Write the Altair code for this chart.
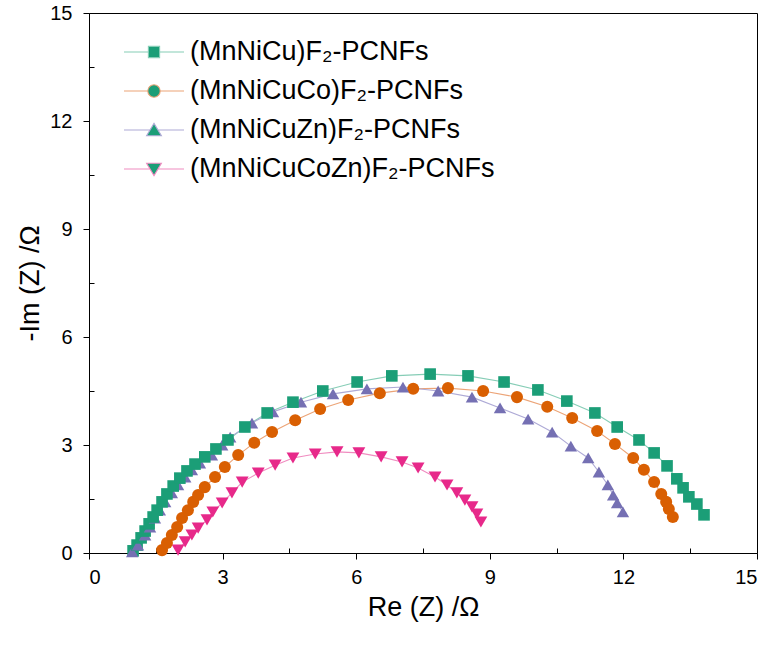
import altair as alt
import pandas as pd

series_names = ["(MnNiCu)F₂-PCNFs", "(MnNiCuCo)F₂-PCNFs", "(MnNiCuZn)F₂-PCNFs", "(MnNiCuCoZn)F₂-PCNFs"]

cu_re = [0.99, 1.08, 1.17, 1.26, 1.35, 1.44, 1.53, 1.64, 1.75, 1.89, 2.04, 2.20, 2.38, 2.60, 2.85,
         3.12, 3.50, 4.00, 4.58, 5.25, 6.02, 6.80, 7.66, 8.51, 9.32, 10.08, 10.73, 11.36, 11.86, 12.35,
         12.69, 12.98, 13.20, 13.34, 13.47, 13.65, 13.81]
cu_im = [0.06, 0.22, 0.42, 0.61, 0.81, 1.00, 1.19, 1.42, 1.64, 1.86, 2.08, 2.28, 2.47, 2.67, 2.89,
         3.14, 3.50, 3.89, 4.19, 4.50, 4.75, 4.92, 4.97, 4.92, 4.75, 4.53, 4.22, 3.89, 3.50, 3.14,
         2.78, 2.42, 2.06, 1.81, 1.56, 1.36, 1.06]

co_re = [1.64, 1.75, 1.86, 1.98, 2.09, 2.22, 2.34, 2.45, 2.60, 2.83, 3.05, 3.35, 3.71, 4.11, 4.63,
         5.19, 5.82, 6.53, 7.28, 8.06, 8.85, 9.61, 10.29, 10.85, 11.41, 11.81, 12.22, 12.46, 12.69,
         12.85, 12.96, 13.02, 13.11]
co_im = [0.08, 0.28, 0.50, 0.72, 0.97, 1.19, 1.42, 1.61, 1.83, 2.11, 2.39, 2.72, 3.06, 3.36, 3.69,
         4.00, 4.25, 4.44, 4.56, 4.58, 4.50, 4.33, 4.06, 3.75, 3.39, 3.03, 2.64, 2.31, 1.97,
         1.64, 1.42, 1.22, 1.00]

zn_re = [0.97, 1.10, 1.26, 1.37, 1.48, 1.59, 1.71, 1.86, 2.00, 2.16, 2.31, 2.49, 2.76, 2.99, 3.17,
         3.66, 4.13, 4.76, 5.48, 6.24, 7.05, 7.84, 8.60, 9.23, 9.86, 10.40, 10.82, 11.21, 11.45,
         11.65, 11.77, 11.86, 11.99]
zn_im = [0.03, 0.22, 0.50, 0.72, 0.97, 1.19, 1.42, 1.67, 1.89, 2.11, 2.31, 2.50, 2.72, 3.00, 3.22,
         3.61, 3.92, 4.19, 4.42, 4.56, 4.61, 4.50, 4.33, 4.03, 3.72, 3.36, 2.97, 2.64, 2.25,
         1.89, 1.61, 1.39, 1.14]

cozn_re = [2.00, 2.16, 2.31, 2.45, 2.65, 2.78, 2.99, 3.21, 3.44, 3.80, 4.18, 4.58, 5.08, 5.57, 6.06,
           6.56, 7.03, 7.39, 7.77, 8.04, 8.26, 8.44, 8.60, 8.71, 8.80]
cozn_im = [0.08, 0.31, 0.50, 0.69, 0.92, 1.14, 1.39, 1.67, 1.97, 2.22, 2.44, 2.64, 2.75, 2.81, 2.78,
           2.67, 2.53, 2.36, 2.11, 1.89, 1.67, 1.47, 1.28, 1.08, 0.86]

major_ticks = [0, 3, 6, 9, 12, 15]
minor_ticks = [1.5, 4.5, 7.5, 10.5, 13.5]

marker_colors = ["#1b9e77", "#d95f02", "#7570b3", "#e7298a"]
line_colors = ["#86cdb6", "#eca477", "#aeaad6", "#f08cc0"]
marker_shapes = ["square", "circle", "triangle-up", "triangle-down"]
marker_sizes = [135, 165, 190, 190]
legend_shapes = [
    "M-1.5,0H-0.28M0.28,0H1.5M-0.28,-0.28H0.28V0.28H-0.28Z",
    "M-1.5,0H-0.31M0.31,0H1.5M0.31,0A0.31,0.31 0 1,1 -0.31,0A0.31,0.31 0 1,1 0.31,0Z",
    "M-1.5,0H-0.2M0.2,0H1.5M0,-0.33L0.37,0.29L-0.37,0.29Z",
    "M-1.5,0H-0.2M0.2,0H1.5M0,0.33L0.37,-0.29L-0.37,-0.29Z",
]

rows = []
for name, xs, ys in zip(series_names, [cu_re, co_re, zn_re, cozn_re], [cu_im, co_im, zn_im, cozn_im]):
    for i, (a, b) in enumerate(zip(xs, ys)):
        rows.append({"series": name, "i": i, "re": a, "im": b})
df = pd.DataFrame(rows)

FONT = "Liberation Sans"
x_scale = alt.Scale(domain=[0, 15], nice=False, zero=False)
y_scale = alt.Scale(domain=[0, 15], nice=False, zero=False)

base = alt.Chart(df)

lines = base.mark_line(strokeWidth=1.1).encode(
    x=alt.X("re:Q", scale=x_scale, axis=None),
    y=alt.Y("im:Q", scale=y_scale, axis=None),
    stroke=alt.Stroke("series:N", scale=alt.Scale(domain=series_names, range=line_colors), legend=None),
    detail="series:N",
    order="i:Q",
)

points = base.mark_point(filled=True, opacity=1, strokeWidth=0).encode(
    x=alt.X("re:Q", scale=x_scale,
            axis=alt.Axis(values=major_ticks, title="Re (Z) /Ω", orient="bottom", grid=False,
                          tickSize=6, labelPadding=8, titlePadding=7, labelFontSize=20,
                          titleFontSize=27, labelFont=FONT, titleFont=FONT)),
    y=alt.Y("im:Q", scale=y_scale,
            axis=alt.Axis(values=major_ticks, title="-Im (Z) /Ω", orient="left", grid=False,
                          tickSize=6, labelPadding=11, titlePadding=5, labelFontSize=20,
                          titleFontSize=27, labelFont=FONT, titleFont=FONT)),
    color=alt.Color("series:N", scale=alt.Scale(domain=series_names, range=marker_colors), legend=None),
    shape=alt.Shape("series:N", scale=alt.Scale(domain=series_names, range=marker_shapes), legend=None),
    size=alt.Size("series:N", scale=alt.Scale(domain=series_names, range=marker_sizes), legend=None),
    order="i:Q",
)

minor_layer = base.mark_point(opacity=0).encode(
    x=alt.X("re:Q", scale=x_scale,
            axis=alt.Axis(values=minor_ticks, orient="bottom", offset=-5, tickSize=5, labels=False,
                          domain=False, grid=False, title=None)),
    y=alt.Y("im:Q", scale=y_scale,
            axis=alt.Axis(values=minor_ticks, orient="left", offset=-5, tickSize=5, labels=False,
                          domain=False, grid=False, title=None)),
)

leg = alt.Legend(title=None, orient="none", legendX=44, legendY=18, padding=0, rowPadding=5,
                 symbolSize=1600, labelFont=FONT, labelFontSize=27, labelColor="black",
                 labelOffset=15, labelLimit=600, symbolStrokeWidth=1.1,
                 symbolFillColor="#1b9e77", symbolOpacity=1)

legend_layer = base.transform_filter("false").mark_point(filled=True, opacity=1, strokeWidth=1.1).encode(
    fill=alt.Fill("series:N", scale=alt.Scale(domain=series_names, range=marker_colors), legend=leg),
    stroke=alt.Stroke("series:N", scale=alt.Scale(domain=series_names, range=line_colors), legend=leg),
    shape=alt.Shape("series:N", scale=alt.Scale(domain=series_names, range=legend_shapes), legend=leg),
)

chart = alt.layer(lines, points, minor_layer, legend_layer).resolve_scale(
    shape="independent", stroke="independent"
).resolve_axis(
    x="independent", y="independent"
).properties(
    width=668, height=540,
    autosize=alt.AutoSizeParams(type="none"),
    padding={"left": 89, "top": 13, "right": 15, "bottom": 93},
).configure_view(
    stroke="black", strokeWidth=1
).configure_axis(
    domainColor="black", tickColor="black", labelColor="black", titleColor="black",
    titleFontWeight="normal", domainWidth=1, tickWidth=1
)

chart.save("out.html", embed_options={"renderer": "svg", "actions": False})
